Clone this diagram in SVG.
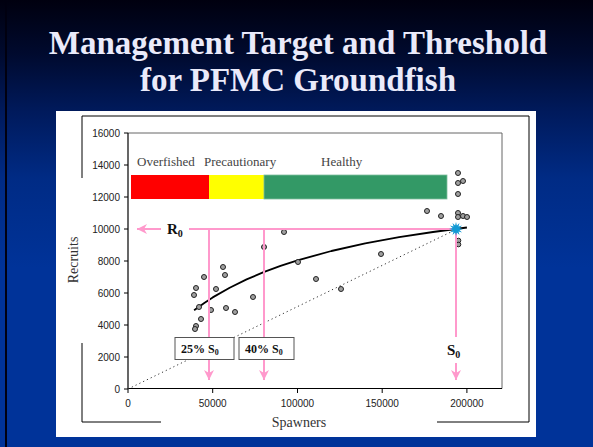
<svg xmlns="http://www.w3.org/2000/svg" width="593" height="447" viewBox="0 0 593 447">
<defs>
<linearGradient id="bg" x1="0" y1="0" x2="0" y2="1">
<stop offset="0" stop-color="#00000f"/>
<stop offset="0.12" stop-color="#000a2e"/>
<stop offset="0.25" stop-color="#001a5c"/>
<stop offset="0.4" stop-color="#002b85"/>
<stop offset="0.6" stop-color="#003399"/>
<stop offset="1" stop-color="#003399"/>
</linearGradient>
<marker id="ah" viewBox="0 0 10 10" refX="10" refY="5" markerWidth="10" markerHeight="10" markerUnits="userSpaceOnUse" orient="auto">
<path d="M0,0 L10,5 L0,10 L3,5 z" fill="#FF99CC"/>
</marker>
<style>
.title{font-family:"Liberation Serif","Times New Roman",serif;font-weight:bold;font-size:33px;fill:#EAEAFA;text-anchor:middle}
.tick{font-family:"Liberation Sans",Arial,sans-serif;font-size:10px;fill:#222}
.ty{text-anchor:end}
.tx{text-anchor:middle}
.axl{font-family:"Liberation Serif","Times New Roman",serif;font-size:14px;fill:#333;text-anchor:middle}
.zone{font-family:"Liberation Serif","Times New Roman",serif;font-size:13px;fill:#444}
.pk{stroke:#FF99CC;stroke-width:2;fill:none}
.lbl{font-family:"Liberation Serif","Times New Roman",serif;font-weight:bold;fill:#111}
.pt{fill:#A0A0A0;stroke:#222;stroke-width:1}
.box{fill:#fff;stroke:#555;stroke-width:1}
</style>
</defs>
<rect x="0" y="0" width="593" height="447" fill="url(#bg)"/>
<line x1="6" y1="0" x2="6" y2="447" stroke="#000010" stroke-width="2"/>
<text class="title" x="298" y="54">Management Target and Threshold</text>
<text class="title" x="298" y="91">for PFMC Groundfish</text>
<g id="panel">
<rect x="56" y="111" width="480" height="326" fill="#fff"/>
<polyline points="82,178 82,116 529,116 529,422 437,422" fill="none" stroke="#000" stroke-width="1"/>
<polyline points="82,343 82,422 161,422" fill="none" stroke="#000" stroke-width="1"/>
</g>
<g id="axes">
<polyline points="128,133 502,133 502,388.5" fill="none" stroke="#666" stroke-width="1"/>
<line x1="128" y1="133" x2="128" y2="389" stroke="#000" stroke-width="1.2"/>
<line x1="128" y1="388.5" x2="502" y2="388.5" stroke="#000" stroke-width="1.2"/>
<g stroke="#000" stroke-width="1">
<line x1="124" y1="133" x2="128" y2="133"/>
<line x1="124" y1="165" x2="128" y2="165"/>
<line x1="124" y1="197" x2="128" y2="197"/>
<line x1="124" y1="229" x2="128" y2="229"/>
<line x1="124" y1="261" x2="128" y2="261"/>
<line x1="124" y1="293" x2="128" y2="293"/>
<line x1="124" y1="325" x2="128" y2="325"/>
<line x1="124" y1="357" x2="128" y2="357"/>
<line x1="124" y1="389" x2="128" y2="389"/>
<line x1="128" y1="389" x2="128" y2="393"/>
<line x1="212.7" y1="389" x2="212.7" y2="393"/>
<line x1="297.5" y1="389" x2="297.5" y2="393"/>
<line x1="382.2" y1="389" x2="382.2" y2="393"/>
<line x1="466.9" y1="389" x2="466.9" y2="393"/>
</g>
<text class="tick ty" x="120" y="136.5">16000</text>
<text class="tick ty" x="120" y="168.5">14000</text>
<text class="tick ty" x="120" y="200.5">12000</text>
<text class="tick ty" x="120" y="232.5">10000</text>
<text class="tick ty" x="120" y="264.5">8000</text>
<text class="tick ty" x="120" y="296.5">6000</text>
<text class="tick ty" x="120" y="328.5">4000</text>
<text class="tick ty" x="120" y="360.5">2000</text>
<text class="tick ty" x="120" y="392.5">0</text>
<text class="tick tx" x="128" y="407">0</text>
<text class="tick tx" x="212.7" y="407">50000</text>
<text class="tick tx" x="297.5" y="407">100000</text>
<text class="tick tx" x="382.2" y="407">150000</text>
<text class="tick tx" x="466.9" y="407">200000</text>
<text class="axl" x="299" y="427">Spawners</text>
<text class="axl" transform="translate(78,260) rotate(-90)">Recruits</text>
</g>
<g id="zones">
<rect x="131" y="175" width="78" height="24" fill="#FF0000"/>
<rect x="209" y="175" width="55" height="24" fill="#FFFF00"/>
<rect x="264" y="175" width="183" height="24" fill="#339966" stroke="#7fbf9f" stroke-width="0.8"/>
<text class="zone" x="137" y="166">Overfished</text>
<text class="zone" x="204" y="166">Precautionary</text>
<text class="zone" x="321" y="166">Healthy</text>
</g>
<g id="data">
<line x1="128" y1="389" x2="455" y2="230" stroke="#333" stroke-width="1" stroke-dasharray="1.2 3"/>
<polyline points="194.1,310.3 204.3,303 212.7,297.4 229.7,287.7 246.6,279.4 263.6,272.2 280.5,265.8 297.5,260.3 331.4,251 365.2,243.4 399.1,237.2 433,232 466.9,227.5" fill="none" stroke="#000" stroke-width="1.8" stroke-linejoin="round"/>
<g>
<circle class="pt" cx="284" cy="232" r="2.5"/>
<circle class="pt" cx="264" cy="247" r="2.5"/>
<circle class="pt" cx="298" cy="262" r="2.5"/>
<circle class="pt" cx="223" cy="267" r="2.5"/>
<circle class="pt" cx="225" cy="275" r="2.5"/>
<circle class="pt" cx="204" cy="277" r="2.5"/>
<circle class="pt" cx="196" cy="288" r="2.5"/>
<circle class="pt" cx="194" cy="295" r="2.5"/>
<circle class="pt" cx="216" cy="289" r="2.5"/>
<circle class="pt" cx="253" cy="297" r="2.5"/>
<circle class="pt" cx="199" cy="307" r="2.5"/>
<circle class="pt" cx="211" cy="310" r="2.5"/>
<circle class="pt" cx="226" cy="308" r="2.5"/>
<circle class="pt" cx="235" cy="312" r="2.5"/>
<circle class="pt" cx="201" cy="319" r="2.5"/>
<circle class="pt" cx="196" cy="326" r="2.5"/>
<circle class="pt" cx="195" cy="329" r="2.5"/>
<circle class="pt" cx="381" cy="254" r="2.5"/>
<circle class="pt" cx="316" cy="279" r="2.5"/>
<circle class="pt" cx="341" cy="289" r="2.5"/>
<circle class="pt" cx="458" cy="173" r="2.5"/>
<circle class="pt" cx="458" cy="183" r="2.5"/>
<circle class="pt" cx="463" cy="181" r="2.5"/>
<circle class="pt" cx="458" cy="194" r="2.5"/>
<circle class="pt" cx="427" cy="211" r="2.5"/>
<circle class="pt" cx="441" cy="216" r="2.5"/>
<circle class="pt" cx="458" cy="213" r="2.5"/>
<circle class="pt" cx="458" cy="217" r="2.5"/>
<circle class="pt" cx="463" cy="216" r="2.5"/>
<circle class="pt" cx="467" cy="217" r="2.5"/>
<circle class="pt" cx="458.5" cy="240.5" r="2.3"/>
<circle class="pt" cx="458.5" cy="244.5" r="2.3"/>
</g>
</g>
<g id="connectors">
<line class="pk" x1="161" y1="229" x2="137" y2="229" marker-end="url(#ah)"/>
<line class="pk" x1="189" y1="229" x2="456" y2="229"/>
<line class="pk" x1="209" y1="229" x2="209" y2="380" marker-end="url(#ah)"/>
<line class="pk" x1="264" y1="229" x2="264" y2="380" marker-end="url(#ah)"/>
<line class="pk" x1="456" y1="229" x2="456" y2="337"/>
<line class="pk" x1="456" y1="363" x2="456" y2="380" marker-end="url(#ah)"/>
</g>
<g id="star">
<polygon points="463,229 459.38,229.91 462.06,232.5 458.47,231.47 459.5,235.06 456.91,232.38 456,236 455.09,232.38 452.5,235.06 453.53,231.47 449.94,232.5 452.62,229.91 449,229 452.62,228.09 449.94,225.5 453.53,226.53 452.5,222.94 455.09,225.62 456,222 456.91,225.62 459.5,222.94 458.47,226.53 462.06,225.5 459.38,228.09" fill="#1199D4"/>
</g>
<g id="label-r0">
<text class="lbl" x="167" y="234" font-size="15">R<tspan font-size="10" dy="3">0</tspan></text>
</g>
<g id="label-s0">
<text class="lbl" x="447" y="355" font-size="15">S<tspan font-size="10" dy="3">0</tspan></text>
</g>
<g id="box-25">
<rect class="box" x="175" y="337.5" width="59" height="22"/>
<text class="lbl" x="181" y="353" font-size="12">25% S<tspan font-size="8" dy="2">0</tspan></text>
</g>
<g id="box-40">
<rect class="box" x="239" y="337.5" width="55" height="22"/>
<text class="lbl" x="245" y="353" font-size="12">40% S<tspan font-size="8" dy="2">0</tspan></text>
</g>
</svg>
